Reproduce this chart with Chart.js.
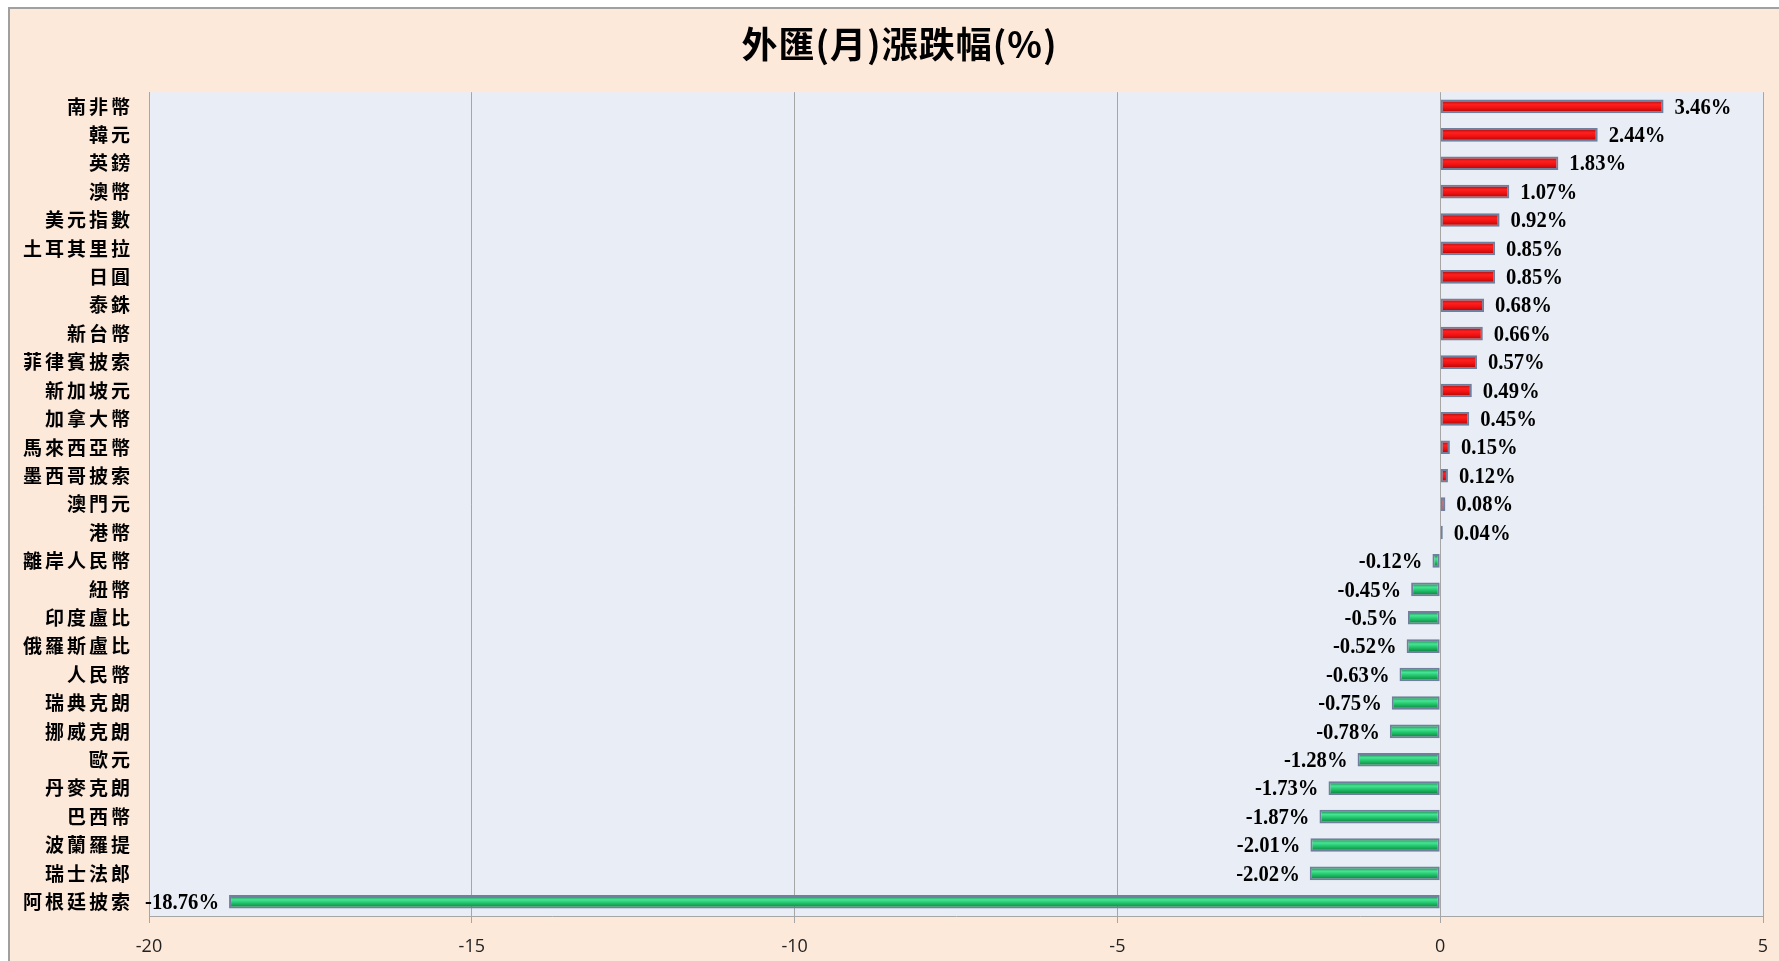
<!DOCTYPE html>
<html>
<head>
<meta charset="utf-8">
<script src="https://cdn.jsdelivr.net/npm/chart.js@4/dist/chart.umd.min.js"></script>
<style>
  html, body { margin: 0; padding: 0; background: #fff; }
  canvas { display: block; }
</style>
</head>
<body>
<canvas id="fxChart" width="1779" height="961"></canvas>
<script>
/* ── data ── */
const currencies = [
  '南非幣','韓元','英鎊','澳幣','美元指數','土耳其里拉','日圓','泰銖','新台幣','菲律賓披索',
  '新加坡元','加拿大幣','馬來西亞幣','墨西哥披索','澳門元','港幣','離岸人民幣','紐幣','印度盧比','俄羅斯盧比',
  '人民幣','瑞典克朗','挪威克朗','歐元','丹麥克朗','巴西幣','波蘭羅提','瑞士法郎','阿根廷披索'
];
const monthlyChange = [
  3.46, 2.44, 1.83, 1.07, 0.92, 0.85, 0.85, 0.68, 0.66, 0.57,
  0.49, 0.45, 0.15, 0.12, 0.08, 0.04, -0.12, -0.45, -0.5, -0.52,
  -0.63, -0.75, -0.78, -1.28, -1.73, -1.87, -2.01, -2.02, -18.76
];
const xTicks = [-20, -15, -10, -5, 0, 5];

/* ── colours ── */
const PEACH   = '#FDE9DA';
const PLOT_BG = '#E9EDF5';
const GRID    = '#A6A6A6';
const FRAME   = '#A0A0A0';

/* per-bar vertical gradient, like the bevelled Excel bars */
function barFill(ctx) {
  const v = ctx.raw;
  const pos = v >= 0;
  const chart = ctx.chart;
  const ya = chart.scales && chart.scales.y;
  if (ctx.type !== 'data' || !ya || !chart.chartArea) return pos ? '#E81818' : '#1FB060';
  const yc = ya.getPixelForValue(ctx.dataIndex);
  const g = chart.ctx.createLinearGradient(0, yc - 7, 0, yc + 7);
  if (pos) {
    g.addColorStop(0, '#8E0A0A');
    g.addColorStop(0.35, '#FF1F1F');
    g.addColorStop(0.6, '#F01212');
    g.addColorStop(1, '#9A0505');
  } else {
    g.addColorStop(0, '#0C6A34');
    g.addColorStop(0.35, '#45E494');
    g.addColorStop(0.6, '#1FC067');
    g.addColorStop(1, '#0A6E35');
  }
  return g;
}

/* wrap a box's draw call with some letter spacing / offset */
function spaced(box, fn, spacing, dx) {
  if (!box || box.__spaced) return;
  const orig = box[fn];
  box[fn] = function (...args) {
    const c = this.ctx;
    c.save();
    c.letterSpacing = spacing;
    c.translate(dx, 0);
    orig.apply(this, args);
    c.restore();
    c.letterSpacing = '0px';
  };
  box.__spaced = true;
}

/* background: white page, peach chart frame, blue-grey plot area */
const backdrop = {
  id: 'backdrop',
  beforeDraw(chart) {
    const { ctx, width, height, chartArea: a } = chart;
    ctx.save();
    ctx.fillStyle = '#fff';
    ctx.fillRect(0, 0, width, height);
    ctx.fillStyle = PEACH;
    ctx.fillRect(8, 7, width - 8, height - 7);
    ctx.strokeStyle = FRAME;
    ctx.lineWidth = 2;
    ctx.beginPath();
    ctx.moveTo(9, height);
    ctx.lineTo(9, 8);
    ctx.lineTo(width, 8);
    ctx.stroke();
    ctx.fillStyle = PLOT_BG;
    ctx.fillRect(a.left, a.top, a.right - a.left, a.bottom - a.top);
    ctx.restore();

    spaced(chart.scales.y, 'drawLabels', '3px', 0);
    spaced(chart.titleBlock, 'draw', '1px', 11);
  }
};

/* value labels at bar ends */
const valueLabels = {
  id: 'valueLabels',
  afterDatasetsDraw(chart) {
    const { ctx } = chart;
    const meta = chart.getDatasetMeta(0);
    ctx.save();
    ctx.font = 'bold 24px "Liberation Serif", serif';
    ctx.fillStyle = '#000';
    ctx.textBaseline = 'middle';
    meta.data.forEach((bar, i) => {
      const v = monthlyChange[i];
      const txt = v + '%';
      const pos = v >= 0;
      const x = pos ? bar.x + 11 : bar.x - 10;
      ctx.save();
      ctx.translate(x, bar.y + 1);
      ctx.scale(0.86, 1);
      ctx.textAlign = pos ? 'left' : 'right';
      ctx.fillText(txt, 0, 0);
      ctx.restore();
    });
    ctx.restore();
  }
};

new Chart(document.getElementById('fxChart'), {
  type: 'bar',
  data: {
    labels: currencies,
    datasets: [{
      data: monthlyChange,
      backgroundColor: barFill,
      borderColor: '#6F7F9C',
      borderWidth: 2,
      borderSkipped: false,
      categoryPercentage: 1,
      barPercentage: 0.48,
    }]
  },
  options: {
    indexAxis: 'y',
    responsive: false,
    animation: false,
    devicePixelRatio: 1,
    layout: { padding: { left: 14, right: 16, top: 0, bottom: 0 } },
    plugins: {
      legend: { display: false },
      tooltip: { enabled: false },
      title: {
        display: true,
        text: '外匯(月)漲跌幅(%)',
        color: '#000',
        font: { family: '"Noto Sans CJK TC", sans-serif', size: 36, weight: 'bold', lineHeight: 1.2 },
        padding: { top: 23, bottom: 26 },
      }
    },
    scales: {
      x: {
        type: 'linear',
        min: -20,
        max: 5,
        afterBuildTicks: s => { s.ticks = xTicks.map(v => ({ value: v })); },
        afterFit: s => { s.height = 45; s.paddingLeft = 0; s.paddingRight = 0; },
        grid: { color: GRID, lineWidth: 1, tickLength: 7, drawTicks: true },
        border: { display: true, color: GRID, width: 1 },
        ticks: {
          color: '#222',
          padding: 13,
          font: { family: '"Open Sans", sans-serif', size: 18 },
        },
      },
      y: {
        afterFit: s => { s.width = 135; },
        grid: { display: false, drawTicks: false },
        border: { display: true, color: GRID, width: 1 },
        ticks: {
          color: '#000',
          padding: 16,
          autoSkip: false,
          font: { family: '"Noto Sans CJK TC", sans-serif', size: 19, weight: 'bold' },
        },
      }
    }
  },
  plugins: [backdrop, valueLabels]
});
</script>
</body>
</html>
